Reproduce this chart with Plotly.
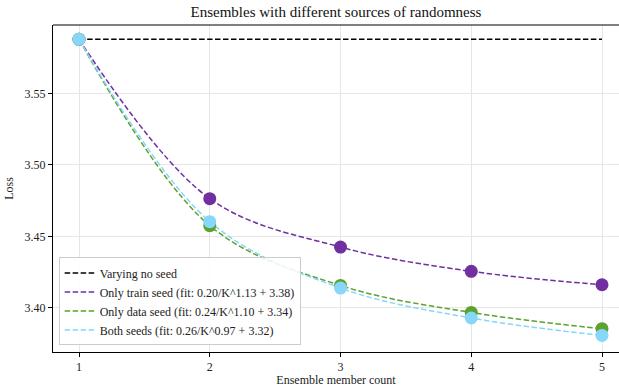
import plotly.graph_objects as go

K = [1, 2, 3, 4, 5]
no_seed = [3.588, 3.588, 3.588, 3.588, 3.588]
train_seed = [3.588, 3.4764, 3.4425, 3.4255, 3.4161]
data_seed = [3.588, 3.4575, 3.4156, 3.3967, 3.3853]
both_seeds = [3.588, 3.4603, 3.4138, 3.3928, 3.3806]

names = [
    "Varying no seed",
    "Only train seed (fit: 0.20/K^1.13 + 3.38)",
    "Only data seed (fit: 0.24/K^1.10 + 3.34)",
    "Both seeds (fit: 0.26/K^0.97 + 3.32)",
]
colors = ["#000000", "#7030a0", "#5ba22e", "#87d7fb"]

FONT = "Liberation Serif"
fig = go.Figure()

series = [no_seed, train_seed, data_seed, both_seeds]
for s, n, c in zip(series, names, colors):
    fig.add_trace(go.Scatter(
        x=K, y=s, mode="lines", name=n,
        line=dict(color=c, width=1.5, dash="5.5px,2.5px", shape="spline", smoothing=1.0),
    ))

for s, c in zip(series[1:], colors[1:]):
    fig.add_trace(go.Scatter(
        x=K, y=s, mode="markers", showlegend=False,
        marker=dict(color=c, size=13, line=dict(width=0)),
    ))

fig.add_shape(type="line", xref="paper", yref="paper", x0=0, x1=1, y0=1, y1=1,
              line=dict(color="black", width=1))

fig.update_layout(
    width=619, height=387,
    margin=dict(l=53, r=0, t=25, b=35),
    paper_bgcolor="white", plot_bgcolor="white",
    font=dict(family=FONT, size=12, color="#222"),
    title=dict(text="Ensembles with different sources of randomness",
               x=0.5, xanchor="center", xref="paper", y=0.97, yanchor="middle",
               font=dict(family=FONT, size=15, color="#111")),
    xaxis=dict(range=[0.8011, 5.130], tickvals=[1, 2, 3, 4, 5], showgrid=True,
               gridcolor="#e6e6e6", gridwidth=1, zeroline=False, showline=True,
               linecolor="black", linewidth=1, ticks="outside", ticklen=4,
               tickcolor="black",
               title=dict(text="Ensemble member count", standoff=4,
                          font=dict(family=FONT, size=12))),
    yaxis=dict(range=[3.369, 3.598], tickvals=[3.40, 3.45, 3.50, 3.55],
               tickformat=".2f", showgrid=True, gridcolor="#e6e6e6", gridwidth=1,
               zeroline=False, showline=True, linecolor="black", linewidth=1,
               ticks="outside", ticklen=4, tickcolor="black",
               title=dict(text="Loss", standoff=8, font=dict(family=FONT, size=12))),
    legend=dict(x=0.01, y=0.02, xanchor="left", yanchor="bottom",
                bgcolor="rgba(255,255,255,0.85)", bordercolor="#cccccc", borderwidth=1,
                font=dict(family=FONT, size=12), itemwidth=30, tracegroupgap=0),
)

fig.write_html("out.html")
